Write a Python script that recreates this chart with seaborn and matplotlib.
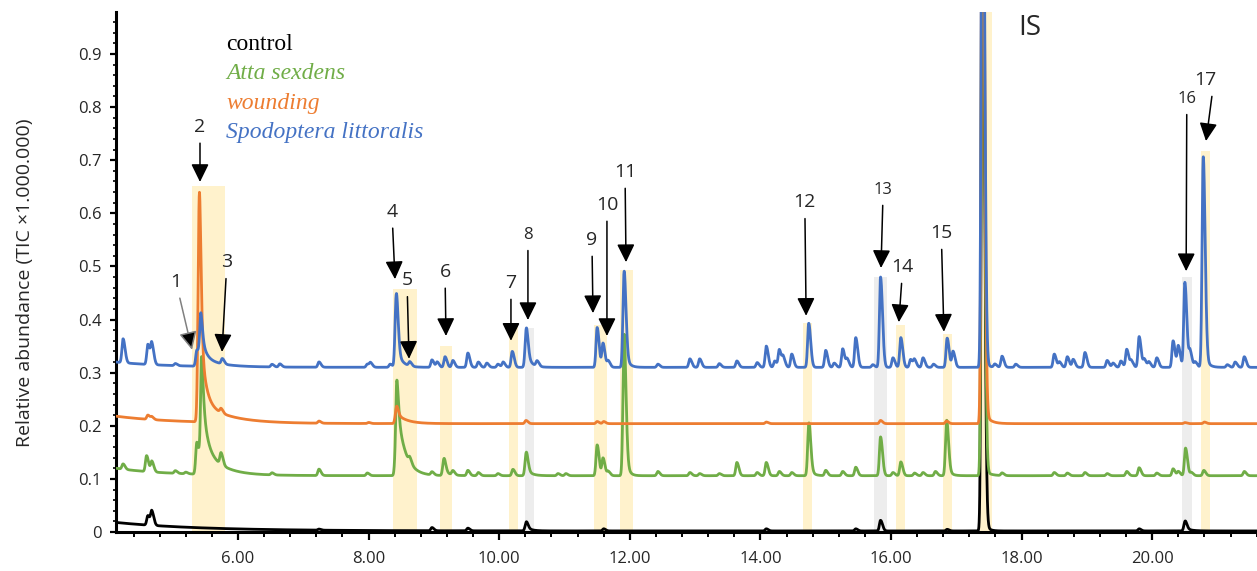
import numpy as np
import pandas as pd
import matplotlib
matplotlib.use("Agg")
import matplotlib.pyplot as plt
from matplotlib.ticker import MultipleLocator, FuncFormatter
import seaborn as sns

# ---- data (retention time in min, height above baseline) ----
samples = ["control", "Atta sexdens", "wounding", "Spodoptera littoralis"]
colors = ["#000000", "#70AD47", "#ED7D31", "#4472C4"]

baselines = [0.002, 0.106, 0.204, 0.310]
drift_amp = [0.016, 0.014, 0.014, 0.010]
drift_tau = [1.3, 0.8, 0.9, 0.8]

control_rt = [4.62, 4.68, 7.24, 8.97, 9.52, 10.41, 11.60, 14.09, 15.46, 15.84, 16.86, 17.40, 19.80, 20.50]
control_h = [0.018, 0.026, 0.002, 0.006, 0.005, 0.012, 0.004, 0.004, 0.004, 0.020, 0.003, 1.3, 0.004, 0.015]
control_tail_rt = [10.41, 17.40, 20.50]
control_tail_amp = [0.008, 0.03, 0.006]
control_tail_tau = [0.07, 0.05, 0.08]

atta_rt = [4.24, 4.60, 4.68, 5.04, 5.20, 5.37, 5.43, 5.74, 6.52, 7.24, 7.98, 8.42, 8.63, 8.97,
           9.15, 9.29, 9.52, 9.68, 9.98, 10.21, 10.41, 10.90, 11.02, 11.50, 11.59, 11.67, 11.91,
           12.43, 12.92, 13.07, 13.37, 13.64, 13.95, 14.09, 14.29, 14.48, 14.74, 15.00, 15.26,
           15.46, 15.84, 16.03, 16.15, 16.36, 16.49, 16.68, 16.85, 17.40, 17.70, 18.50, 18.70,
           18.97, 19.31, 19.61, 19.80, 20.07, 20.32, 20.40, 20.51, 20.60, 20.79, 21.41]
atta_h = [0.010, 0.030, 0.020, 0.005, 0.003, 0.060, 0.060, 0.022, 0.004, 0.012, 0.005, 0.065, 0.010, 0.006,
          0.026, 0.008, 0.010, 0.006, 0.004, 0.012, 0.035, 0.004, 0.004, 0.058, 0.033, 0.008, 0.220,
          0.008, 0.006, 0.004, 0.004, 0.025, 0.006, 0.025, 0.008, 0.006, 0.088, 0.010, 0.008,
          0.016, 0.073, 0.006, 0.026, 0.005, 0.006, 0.008, 0.093, 1.3, 0.005, 0.006, 0.005,
          0.006, 0.004, 0.008, 0.015, 0.005, 0.013, 0.008, 0.052, 0.006, 0.010, 0.008]
atta_tail_rt = [5.43, 5.43, 8.42, 9.15, 10.41, 11.91, 14.74, 16.85, 17.40]
atta_tail_amp = [0.15, 0.065, 0.15, 0.010, 0.015, 0.080, 0.020, 0.020, 0.015]
atta_tail_tau = [0.06, 0.25, 0.12, 0.08, 0.07, 0.04, 0.05, 0.05, 0.08]

wound_rt = [4.62, 4.68, 5.40, 5.74, 7.24, 8.00, 8.42, 10.41, 11.50, 11.60, 14.09, 15.84, 16.85, 17.40, 20.50, 20.80]
wound_h = [0.008, 0.005, 0.268, 0.008, 0.004, 0.002, 0.018, 0.006, 0.004, 0.004, 0.003, 0.006, 0.005, 1.3, 0.002, 0.003]
wound_tail_rt = [5.40, 5.40, 8.42, 17.40]
wound_tail_amp = [0.20, 0.04, 0.02, 0.03]
wound_tail_tau = [0.07, 0.40, 0.15, 0.08]

spodo_rt = [4.24, 4.62, 4.68, 5.04, 5.37, 5.42, 5.76, 6.52, 6.64, 7.24, 7.98, 8.03, 8.33, 8.42, 8.63,
            8.97, 9.05, 9.17, 9.29, 9.52, 9.68, 9.81, 9.98, 10.06, 10.20, 10.41, 10.58, 11.50, 11.59,
            11.67, 11.91, 12.43, 12.92, 13.07, 13.37, 13.64, 13.95, 14.09, 14.22, 14.29, 14.35, 14.48,
            14.74, 15.00, 15.13, 15.26, 15.33, 15.46, 15.72, 15.84, 16.03, 16.15, 16.30, 16.36, 16.49,
            16.65, 16.86, 16.95, 17.40, 17.59, 17.70, 17.91, 18.50, 18.58, 18.70, 18.79, 18.97, 19.31,
            19.40, 19.52, 19.61, 19.68, 19.80, 19.88, 19.95, 20.07, 20.32, 20.40, 20.50, 20.58, 20.66,
            20.78, 21.15, 21.27, 21.41]
spodo_h = [0.045, 0.038, 0.038, 0.004, 0.030, 0.040, 0.010, 0.005, 0.006, 0.010, 0.006, 0.008, 0.006, 0.114, 0.008,
           0.014, 0.010, 0.020, 0.013, 0.027, 0.010, 0.008, 0.006, 0.010, 0.030, 0.055, 0.010, 0.075, 0.045,
           0.012, 0.158, 0.006, 0.016, 0.016, 0.007, 0.012, 0.009, 0.040, 0.012, 0.033, 0.018, 0.025,
           0.083, 0.032, 0.008, 0.035, 0.015, 0.056, 0.005, 0.170, 0.018, 0.056, 0.015, 0.014, 0.018,
           0.006, 0.055, 0.030, 1.3, 0.006, 0.021, 0.006, 0.025, 0.010, 0.020, 0.015, 0.028, 0.013,
           0.008, 0.012, 0.034, 0.012, 0.058, 0.015, 0.010, 0.018, 0.050, 0.040, 0.160, 0.030, 0.010,
           0.375, 0.005, 0.010, 0.020]
spodo_tail_rt = [5.42, 5.42, 8.42, 10.41, 11.91, 17.40, 20.78]
spodo_tail_amp = [0.06, 0.02, 0.04, 0.03, 0.04, 0.02, 0.04]
spodo_tail_tau = [0.06, 0.25, 0.08, 0.07, 0.05, 0.05, 0.05]

# highlighted retention windows
span_start = [5.30, 8.37, 9.09, 10.15, 10.40, 11.45, 11.85, 14.65, 15.74, 16.08, 16.80, 17.36, 20.46, 20.75]
span_end = [5.80, 8.74, 9.28, 10.29, 10.53, 11.65, 12.05, 14.79, 15.94, 16.21, 16.93, 17.55, 20.61, 20.88]
span_top = [0.651, 0.458, 0.350, 0.390, 0.385, 0.390, 0.494, 0.393, 0.480, 0.390, 0.372, 1.0, 0.480, 0.718]
span_kind = ["y", "y", "y", "y", "g", "y", "y", "y", "g", "y", "y", "y", "g", "y"]

# peak labels: text position and arrow tip
ann_labels = ["1", "2", "3", "4", "5", "6", "7", "8", "9", "10", "11", "12", "13", "14", "15", "16", "17"]
ann_text_t = [5.05, 5.418, 5.83, 8.358, 8.588, 9.17, 10.18, 10.44, 11.42, 11.65, 11.927, 14.68, 15.88, 16.18, 16.77, 20.53, 20.81]
ann_text_v = [0.471, 0.763, 0.508, 0.603, 0.474, 0.490, 0.469, 0.559, 0.550, 0.616, 0.678, 0.621, 0.644, 0.499, 0.563, 0.815, 0.851]
ann_tip_t = [5.296, 5.418, 5.755, 8.404, 8.619, 9.185, 10.18, 10.44, 11.436, 11.65, 11.942, 14.70, 15.847, 16.12, 16.81, 20.52, 20.824]
ann_tip_v = [0.343, 0.659, 0.339, 0.476, 0.326, 0.369, 0.360, 0.399, 0.412, 0.369, 0.508, 0.407, 0.497, 0.395, 0.377, 0.491, 0.736]
small_labels = ["8", "13", "16"]


def trace(t, base, damp, dtau, rts, hs, trt, tamp, ttau):
    y = base + damp * np.exp(-(t - t[0]) / dtau)
    for rt, h in zip(rts, hs):
        sig = np.where(t < rt, 0.017, 0.03)
        y = y + h * np.exp(-0.5 * ((t - rt) / sig) ** 2)
    for rt, a, tau in zip(trt, tamp, ttau):
        dt = t - rt
        y = y + a * np.exp(-np.clip(dt, 0, None) / tau) / (1 + np.exp(-dt / 0.006))
    return y


xmin, xmax = 4.132, 21.605
t = np.linspace(xmin, xmax, 8000)
peak_sets = [
    (control_rt, control_h, control_tail_rt, control_tail_amp, control_tail_tau),
    (atta_rt, atta_h, atta_tail_rt, atta_tail_amp, atta_tail_tau),
    (wound_rt, wound_h, wound_tail_rt, wound_tail_amp, wound_tail_tau),
    (spodo_rt, spodo_h, spodo_tail_rt, spodo_tail_amp, spodo_tail_tau),
]
frames = []
for i, name in enumerate(samples):
    rts, hs, trt, tamp, ttau = peak_sets[i]
    y = trace(t, baselines[i], drift_amp[i], drift_tau[i], rts, hs, trt, tamp, ttau)
    frames.append(pd.DataFrame({"time": t, "abundance": y, "sample": name}))
df = pd.concat(frames, ignore_index=True)

sns.set_style("ticks")
plt.rcParams["font.family"] = ["Open Sans", "DejaVu Sans"]

fig = plt.figure(figsize=(12.57, 5.71), dpi=100)
ax = fig.add_axes([0.0923, 0.0683, 0.9077, 0.9107])

span_colors = {"y": "#FFF2CC", "g": "#EDEDED"}
ax.bar(span_start, span_top, width=np.array(span_end) - np.array(span_start), align="edge",
       color=[span_colors[k] for k in span_kind], linewidth=0, zorder=1)

sns.lineplot(data=df, x="time", y="abundance", hue="sample", hue_order=samples, palette=colors,
             estimator=None, sort=False, linewidth=2.0, legend=False, ax=ax, zorder=3)

ax.set_xlim(xmin, xmax)
ax.set_ylim(0, 0.979)
ax.xaxis.set_major_locator(MultipleLocator(2))
ax.xaxis.set_minor_locator(MultipleLocator(0.4))
ax.yaxis.set_major_locator(MultipleLocator(0.1))
ax.yaxis.set_minor_locator(MultipleLocator(0.02))
ax.xaxis.set_major_formatter(FuncFormatter(lambda v, p: f"{v:.2f}"))
ax.yaxis.set_major_formatter(FuncFormatter(lambda v, p: "0" if abs(v) < 1e-9 else f"{v:.1f}"))
ax.tick_params(axis="x", which="major", length=6, width=1.6, labelsize=12, pad=8, color="black")
ax.tick_params(axis="x", which="minor", length=3.5, width=1.4, color="black")
ax.tick_params(axis="y", which="major", length=4, width=1.6, labelsize=12, pad=6.5, color="black")
ax.tick_params(axis="y", which="minor", length=2.5, width=1.2, color="black")
for s in ["top", "right"]:
    ax.spines[s].set_visible(False)
for s in ["left", "bottom"]:
    ax.spines[s].set_linewidth(2.2)
    ax.spines[s].set_color("black")

ax.set_xlabel("")
ax.set_ylabel("Relative abundance (TIC \u00d71.000.000)", fontsize=14)
ax.yaxis.set_label_coords(-0.0719, 0.48)

# legend as coloured text
legend_y = [0.927, 0.871, 0.813, 0.758]
for i, name in enumerate(samples):
    ax.text(0.0964, legend_y[i], name, transform=ax.transAxes, color=colors[i], fontsize=17,
            family=["Liberation Serif", "DejaVu Serif"], style="normal" if i == 0 else "italic",
            va="baseline", ha="left")

for i, lab in enumerate(ann_labels):
    fs = 12 if lab in small_labels else 14
    rel = (0.85, 0.0) if lab == "17" else (0.5, 0.5)
    line_col = "#808080" if lab == "1" else "black"
    ax.annotate(lab, xy=(ann_tip_t[i], ann_tip_v[i]), xytext=(ann_text_t[i], ann_text_v[i]),
                ha="center", va="center", fontsize=fs, zorder=5,
                arrowprops=dict(arrowstyle="-|>,head_length=0.55,head_width=0.27", ec=line_col,
                                fc="black", lw=1.1, shrinkA=3, shrinkB=0, mutation_scale=20, relpos=rel))

ax.text(18.13, 0.949, "IS", fontsize=20, ha="center", va="center")

fig.savefig("out.png", dpi=100)
